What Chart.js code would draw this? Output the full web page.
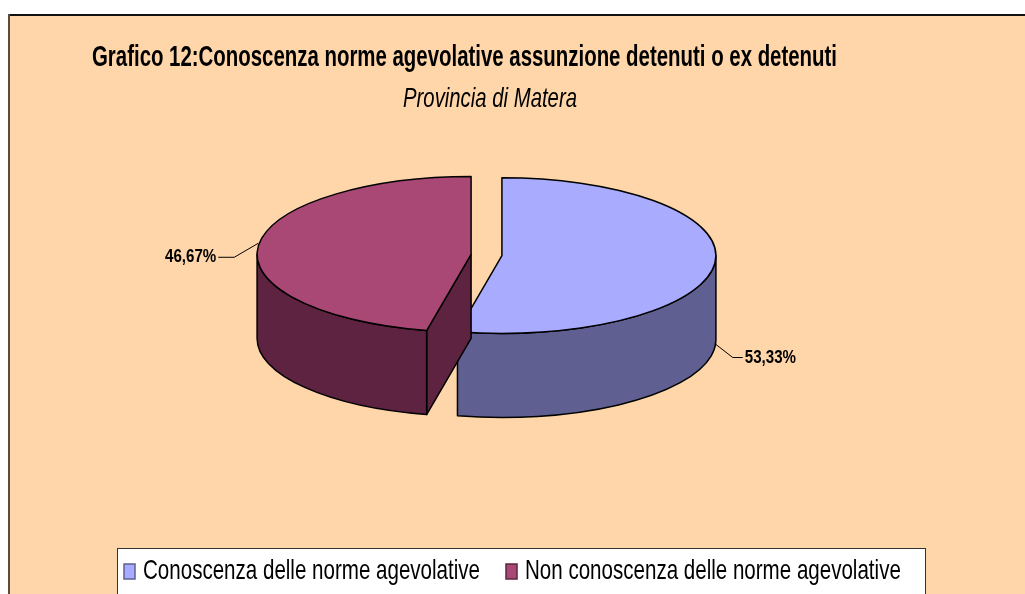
<!DOCTYPE html>
<html>
<head>
  <meta charset="UTF-8">
  <title>Grafico 12 - Provincia di Matera</title>
  <script src="https://cdn.jsdelivr.net/npm/chart.js"></script>
  <style>
    body {
      margin: 0;
      padding: 0;
      background-color: white;
    }
    canvas {
      display: block;
    }
  </style>
</head>
<body>
  <canvas id="grafico" width="1025" height="594"></canvas>

  <script type="text/javascript">
    const titolo = 'Grafico 12:Conoscenza norme agevolative assunzione detenuti o ex detenuti';
    const sottotitolo = 'Provincia di Matera';
    const categorie = ['Conoscenza delle norme agevolative', 'Non conoscenza delle norme agevolative'];
    const percentuali = [53.33, 46.67];

    // stile
    const coloriSopra = ['#A9ABFE', '#A94874'];
    const coloriLato = ['#5F6091', '#5E2341'];
    const INCLINAZIONE = 0.364;
    const SPESSORE = 84;
    const ESPLOSO = 15.5;
    const FONT = '"Liberation Sans", Arial, sans-serif';

    // testo compresso in orizzontale, come nell'originale
    function scriviStretto(ctx, testo, x, y, font, sx, align) {
      ctx.save();
      ctx.font = font;
      const w = ctx.measureText(testo).width * sx;
      const left = align === 'right' ? x - w : (align === 'center' ? x - w / 2 : x);
      ctx.translate(left, y);
      ctx.scale(sx, 1);
      ctx.textAlign = 'left';
      ctx.textBaseline = 'alphabetic';
      ctx.fillStyle = '#000';
      ctx.fillText(testo, 0, 0);
      ctx.restore();
      return w;
    }

    function scalaPer(ctx, testo, font, larghezza) {
      ctx.save();
      ctx.font = font;
      const w = ctx.measureText(testo).width;
      ctx.restore();
      return larghezza / w;
    }

    const torta3d = {
      id: 'torta3d',
      beforeDraw(chart) {
        const ctx = chart.ctx;
        ctx.save();
        ctx.fillStyle = '#FFFFFF';
        ctx.fillRect(0, 0, chart.width, chart.height);
        ctx.fillStyle = '#FFD6A9';
        ctx.fillRect(9, 14, chart.width - 9, chart.height - 14);
        ctx.fillStyle = '#111111';
        ctx.fillRect(9, 14, chart.width - 9, 2);
        ctx.fillStyle = '#5B4A3E';
        ctx.fillRect(8, 14, 2, chart.height - 14);
        ctx.restore();
      },
      beforeDatasetsDraw(chart) {
        const ctx = chart.ctx;
        const archi = chart.getDatasetMeta(0).data;
        const fette = archi.map((a, i) => {
          const mid = (a.startAngle + a.endAngle) / 2;
          const rx = a.outerRadius;
          return {
            i, mid, rx,
            ry: rx * INCLINAZIONE,
            s: a.startAngle,
            e: a.endAngle,
            sopra: a.options.backgroundColor,
            x: a.x + Math.cos(mid) * ESPLOSO,
            y: a.y + Math.sin(mid) * ESPLOSO * INCLINAZIONE
          };
        });
        chart.$fette = fette;

        ctx.save();
        ctx.lineWidth = 1.5;
        ctx.strokeStyle = '#000';
        ctx.lineJoin = 'round';
        fette.forEach(f => {
          const pt = (a, dz) => [f.x + f.rx * Math.cos(a), f.y + f.ry * Math.sin(a) + dz];
          ctx.fillStyle = coloriLato[f.i];

          // facce radiali visibili
          [[f.s, Math.cos(f.s) < -1e-6], [f.e, Math.cos(f.e) > 1e-6]].forEach(([a, vis]) => {
            if (!vis) return;
            const p = pt(a, 0), q = pt(a, SPESSORE);
            ctx.beginPath();
            ctx.moveTo(f.x, f.y);
            ctx.lineTo(p[0], p[1]);
            ctx.lineTo(q[0], q[1]);
            ctx.lineTo(f.x, f.y + SPESSORE);
            ctx.closePath();
            ctx.fill();
            ctx.stroke();
          });

          // parete esterna (solo la metà davanti)
          for (let k = -1; k <= 1; k++) {
            const a = Math.max(f.s, 2 * Math.PI * k);
            const b = Math.min(f.e, 2 * Math.PI * k + Math.PI);
            if (b - a < 1e-4) continue;
            ctx.beginPath();
            ctx.ellipse(f.x, f.y, f.rx, f.ry, 0, a, b, false);
            ctx.ellipse(f.x, f.y + SPESSORE, f.rx, f.ry, 0, b, a, true);
            ctx.closePath();
            ctx.fill();
            ctx.stroke();
          }

          // faccia superiore
          ctx.fillStyle = f.sopra;
          ctx.beginPath();
          ctx.moveTo(f.x, f.y);
          ctx.ellipse(f.x, f.y, f.rx, f.ry, 0, f.s, f.e, false);
          ctx.closePath();
          ctx.fill();
          ctx.stroke();
        });
        ctx.restore();
        return false;
      },
      afterDraw(chart) {
        const ctx = chart.ctx;
        const valori = chart.data.datasets[0].data;

        // titoli
        const fTitolo = 'bold 29px ' + FONT;
        scriviStretto(ctx, titolo, 92, 66, fTitolo, scalaPer(ctx, titolo, fTitolo, 745), 'left');
        const fSotto = 'italic 28px ' + FONT;
        scriviStretto(ctx, sottotitolo, 403, 107, fSotto, scalaPer(ctx, sottotitolo, fSotto, 174), 'left');

        // etichette dei dati con linee guida
        ctx.save();
        ctx.strokeStyle = '#000';
        ctx.lineWidth = 1;
        (chart.$fette || []).forEach(f => {
          const fronte = Math.sin(f.mid) > 0;
          const dir = Math.cos(f.mid) >= 0 ? 1 : -1;
          const ax = f.x + f.rx * Math.cos(f.mid);
          const ay = f.y + f.ry * Math.sin(f.mid) + (fronte ? SPESSORE * 0.95 : -3);
          const gx = ax + dir * (dir > 0 ? 18 : 24), gy = ay + 14;
          const hx = gx + dir * (dir > 0 ? 10 : 16);
          ctx.beginPath();
          ctx.moveTo(ax, ay);
          ctx.lineTo(gx, gy);
          ctx.lineTo(hx, gy);
          ctx.stroke();
          const testo = valori[f.i].toFixed(2).replace('.', ',') + '%';
          scriviStretto(ctx, testo, hx + dir * 2, gy + 5, 'bold 18px ' + FONT, 0.84, dir > 0 ? 'left' : 'right');
        });
        ctx.restore();

        // legenda
        ctx.save();
        ctx.fillStyle = '#FFFFFF';
        ctx.strokeStyle = '#333333';
        ctx.lineWidth = 1;
        ctx.fillRect(117.5, 548.5, 808, 60);
        ctx.strokeRect(117.5, 548.5, 808, 60);
        const fLeg = '28px ' + FONT;
        const sxLeg = scalaPer(ctx, chart.data.labels[0], fLeg, 337);
        let x = 124;
        chart.data.labels.forEach((lab, i) => {
          ctx.fillStyle = chart.data.datasets[0].backgroundColor[i];
          ctx.strokeStyle = coloriLato[i];
          ctx.lineWidth = 1.5;
          ctx.fillRect(x, 564, 11, 15);
          ctx.strokeRect(x, 564, 11, 15);
          const w = scriviStretto(ctx, lab, x + 19, 579, fLeg, sxLeg, 'left');
          x = x + 19 + w + 26;
        });
        ctx.restore();
      }
    };

    new Chart(document.getElementById('grafico').getContext('2d'), {
      type: 'pie',
      data: {
        labels: categorie,
        datasets: [{
          data: percentuali,
          backgroundColor: coloriSopra,
          borderWidth: 0,
          radius: 214
        }]
      },
      options: {
        responsive: false,
        devicePixelRatio: 1,
        animation: false,
        events: [],
        layout: {
          padding: { left: 0, right: 52, top: 0, bottom: 84 }
        },
        plugins: {
          legend: { display: false },
          title: { display: false },
          tooltip: { enabled: false }
        }
      },
      plugins: [torta3d]
    });
  </script>
</body>
</html>
